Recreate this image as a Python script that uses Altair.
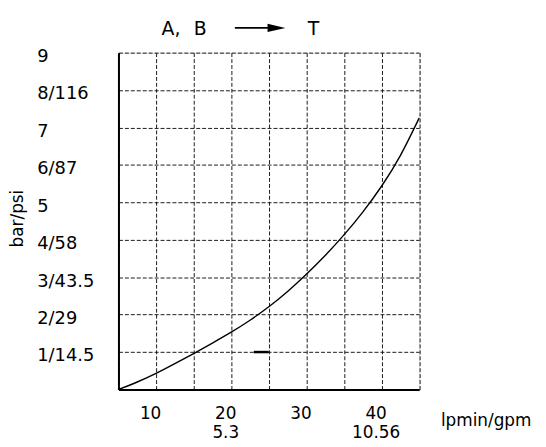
import altair as alt
import pandas as pd

# ---- data ----
flow = [5, 7.5, 10, 12.5, 15, 17.5, 20, 22.5, 25, 27.5, 30, 32.5, 35, 37.5, 40, 42.5, 45]
pressure = [0, 0.20, 0.43, 0.69, 0.96, 1.24, 1.53, 1.85, 2.21, 2.62, 3.08, 3.58, 4.13, 4.74, 5.43, 6.25, 7.25]

x_grid = [5, 10, 15, 20, 25, 30, 35, 40, 45]
x_label_values = [10, 20, 30, 40]
x_label_line1 = ["10", "20", "30", "40"]
x_label_line2 = ["", "5.3", "", "10.56"]

y_grid = [0, 1, 2, 3, 4, 5, 6, 7, 8, 9]
y_label_values = [1, 2, 3, 4, 5, 6, 7, 8, 9]
y_label_text = ["1/14.5", "2/29", "3/43.5", "4/58", "5", "6/87", "7", "8/116", "9"]

mark_x = [23, 25]
mark_y = [1, 1]

FONT = "DejaVu Sans"

# ---- label expressions built from the lists ----
def x_expr():
    parts = []
    for v, a, b in zip(x_label_values, x_label_line1, x_label_line2):
        if b:
            parts.append(f"datum.value == {v} ? ['{a}', '{b}']")
        else:
            parts.append(f"datum.value == {v} ? '{a}'")
    return " : ".join(parts) + " : ''"

def y_expr():
    parts = [f"datum.value == {v} ? '{t}'" for v, t in zip(y_label_values, y_label_text)]
    return " : ".join(parts) + " : ''"

curve = pd.DataFrame({"flow": flow, "pressure": pressure})
dash = pd.DataFrame({"x": [mark_x[0]], "x2": [mark_x[1]], "y": [mark_y[0]]})

xscale = alt.Scale(domain=[5, 45], nice=False, zero=False)
yscale = alt.Scale(domain=[0, 9], nice=False)

xaxis = alt.Axis(
    values=x_grid, tickCount=50, labelExpr=x_expr(), ticks=False,
    grid=True, gridColor="#1a1a1a", gridDash=[4, 2], gridWidth=1, gridOpacity=1,
    domain=True, domainColor="#000", domainWidth=2,
    labelFont=FONT, labelFontSize=17, labelColor="#000", labelPadding=16,
    labelOffset=-6, labelLineHeight=19, labelBaseline="top", labelAngle=0,
    labelFlush=False, labelOverlap=False,
    title="lpmin/gpm", titleFont=FONT, titleFontSize=17, titleFontWeight="normal",
    titleColor="#000", titleX=325, titleY=36, titleAlign="left", titleBaseline="alphabetic",
)
yaxis = alt.Axis(
    values=y_grid, tickCount=50, labelExpr=y_expr(), ticks=False,
    grid=True, gridColor="#1a1a1a", gridDash=[4, 2], gridWidth=1, gridOpacity=1,
    domain=True, domainColor="#000", domainWidth=2,
    labelFont=FONT, labelFontSize=18, labelColor="#000", labelPadding=82.5,
    labelAlign="left", labelBaseline="middle", labelOffset=4,
    labelFlush=False, labelOverlap=False,
    title="bar/psi", titleFont=FONT, titleFontSize=17, titleFontWeight="normal",
    titleColor="#000", titleX=-101.5, titleY=167, titleAngle=270,
    titleAlign="center", titleBaseline="middle",
)

line = alt.Chart(curve).mark_line(color="#000", strokeWidth=1.4, interpolate="natural").encode(
    x=alt.X("flow:Q", scale=xscale, axis=xaxis),
    y=alt.Y("pressure:Q", scale=yscale, axis=yaxis),
)

dash_mark = alt.Chart(dash).mark_rule(color="#000", strokeWidth=2.5).encode(
    x=alt.X("x:Q", scale=xscale), x2="x2:Q", y=alt.Y("y:Q", scale=yscale)
)

anno = pd.DataFrame({"k": [0]})
title_a = alt.Chart(anno).mark_text(
    text="A,", font=FONT, fontSize=19, align="left", baseline="alphabetic", color="#000"
).encode(x=alt.value(43.5), y=alt.value(-18))
title_b = alt.Chart(anno).mark_text(
    text="B", font=FONT, fontSize=19, align="left", baseline="alphabetic", color="#000"
).encode(x=alt.value(76), y=alt.value(-18))
title_t = alt.Chart(anno).mark_text(
    text="T", font=FONT, fontSize=19, align="center", baseline="alphabetic", color="#000"
).encode(x=alt.value(197), y=alt.value(-18))
arrow_line = alt.Chart(anno).mark_rule(color="#000", strokeWidth=2).encode(
    x=alt.value(117.5), x2=alt.value(152), y=alt.value(-25)
)
arrow_head = alt.Chart(anno).mark_point(
    shape="M-1,-0.45L1,0L-1,0.45Z", filled=True, color="#000", opacity=1, size=324
).encode(x=alt.value(159.5), y=alt.value(-25))

chart = alt.layer(line, dash_mark, title_a, title_b, title_t, arrow_line, arrow_head).properties(
    width=303.5, height=340,
    autosize=alt.AutoSizeParams(type="none"),
    padding={"left": 111.5, "top": 43, "right": 120, "bottom": 56},
).configure_view(stroke=None).configure(background="white")

chart.save("out.html", embed_options={"renderer": "svg", "actions": False})
